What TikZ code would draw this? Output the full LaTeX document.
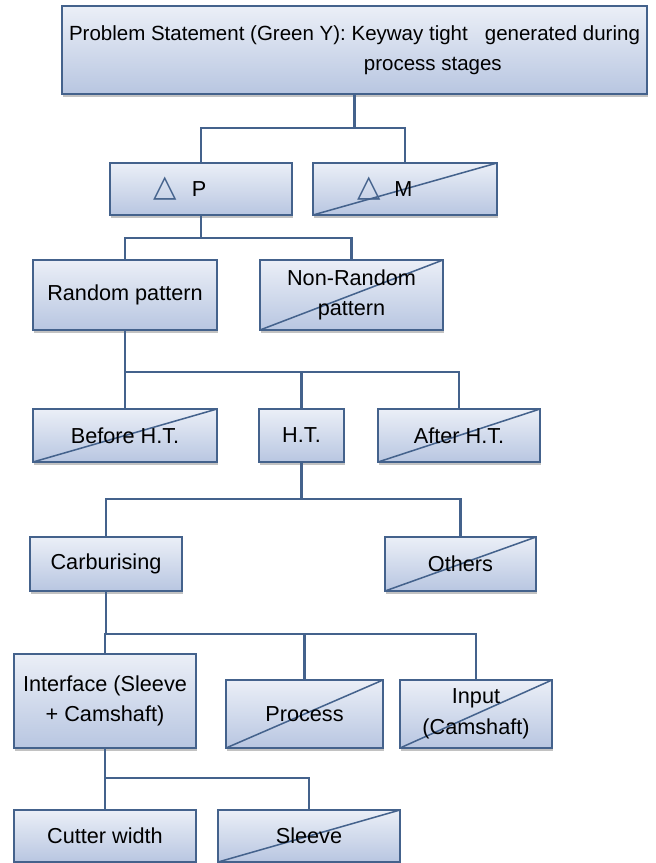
\documentclass[tikz,border=0pt]{standalone}
\usepackage{fontspec}
\setmainfont{Liberation Sans}
\newfontfamily\symfont{DejaVu Sans}
\usetikzlibrary{shadows}
\definecolor{boxline}{RGB}{68,98,140}
\definecolor{boxtop}{RGB}{235,239,247}
\definecolor{boxbottom}{RGB}{184,198,225}

\begin{document}
\begin{tikzpicture}[x=0.03cm, y=-0.03cm,
	box/.style={shape=rectangle, draw=boxline, line width=1.6pt, top color=boxtop, bottom color=boxbottom, inner sep=0pt, align=center, font=\fontsize{18.5}{26}\selectfont, drop shadow={shadow xshift=0.8pt, shadow yshift=-2.6pt, opacity=0.4, fill=black!60}},
	crossed/.style={path picture={\draw[boxline, line width=1.3pt] (path picture bounding box.south west) -- (path picture bounding box.north east);}},
	link/.style={draw=boxline, line width=1.8pt}]
	
	\useasboundingbox (0,0) rectangle (656,863);
	
	\node[box, font=\fontsize{17.5}{26}\selectfont, minimum width=17.55cm, minimum height=2.64cm] (top) at (354.5, 50)  {Problem Statement (Green Y): Keyway tight\ \ \ generated during\\\hspace*{4.7cm}process stages};
	
	\node[box, minimum width=5.46cm, minimum height=1.56cm] (p) at (201, 189)  {\textcolor{boxline}{\fontsize{26}{26}\symfont △}\hspace{0.45cm}P\hspace*{1.26cm}};
	\node[box, crossed, minimum width=5.52cm, minimum height=1.56cm] (m) at (405, 189)  {\textcolor{boxline}{\fontsize{26}{26}\symfont △}\hspace{0.4cm}M\hspace*{1.2cm}};
	
	\node[box, minimum width=5.52cm, minimum height=2.1cm] (random) at (125, 295)  {Random pattern};
	\node[box, crossed, minimum width=5.49cm, minimum height=2.1cm] (nonrandom) at (351.5, 295)  {Non-Random\\pattern};
	
	\node[box, crossed, minimum width=5.52cm, minimum height=1.59cm] (before) at (125, 435.5)  {Before H.T.};
	\node[box, minimum width=2.55cm, minimum height=1.59cm] (ht) at (301.5, 435.5)  {H.T.};
	\node[box, crossed, minimum width=4.86cm, minimum height=1.59cm] (after) at (459, 435.5)  {After H.T.};
	
	\node[box, minimum width=4.56cm, minimum height=1.62cm] (carb) at (106, 564)  {Carburising};
	\node[box, crossed, minimum width=4.53cm, minimum height=1.62cm] (others) at (460.5, 564)  {Others};
	
	\node[box, minimum width=5.46cm, minimum height=2.82cm] (interface) at (105, 701)  {Interface (Sleeve\\+ Camshaft)};
	\node[box, crossed, minimum width=4.71cm, minimum height=2.04cm] (process) at (304.5, 714)  {Process};
	\node[box, crossed, minimum width=4.56cm, minimum height=2.04cm] (input) at (476, 714)  {Input\\(Camshaft)};
	
	\node[box, minimum width=5.46cm, minimum height=1.56cm] (cutter) at (105, 836)  {Cutter width};
	\node[box, crossed, minimum width=5.46cm, minimum height=1.56cm] (sleeve) at (309, 836)  {Sleeve};
	
	% branch points
	\coordinate (j1) at (354.5, 128);
	\coordinate (j2) at (201, 238);
	\coordinate (j3) at (125, 372);
	\coordinate (j4) at (301.5, 499);
	\coordinate (j5) at (106, 634);
	\coordinate (j6) at (105, 778);
	
	\draw[link] (top.south) -- (j1);
	\draw[link] (j1) -| (p.north);
	\draw[link] (j1) -| (m.north);
	
	\draw[link] (p.south) -- (j2);
	\draw[link] (j2) -| (random.north);
	\draw[link] (j2) -| (nonrandom.north);
	
	\draw[link] (random.south) -- (j3);
	\draw[link] (j3) -| (before.north);
	\draw[link] (j3) -| (ht.north);
	\draw[link] (j3) -| (after.north);
	
	\draw[link] (ht.south) -- (j4);
	\draw[link] (j4) -| (carb.north);
	\draw[link] (j4) -| (others.north);
	
	\draw[link] (carb.south) -- (j5);
	\draw[link] (j5) -| (interface.north);
	\draw[link] (j5) -| (process.north);
	\draw[link] (j5) -| (input.north);
	
	\draw[link] (interface.south) -- (j6);
	\draw[link] (j6) -| (cutter.north);
	\draw[link] (j6) -| (sleeve.north);
\end{tikzpicture}
\end{document}
